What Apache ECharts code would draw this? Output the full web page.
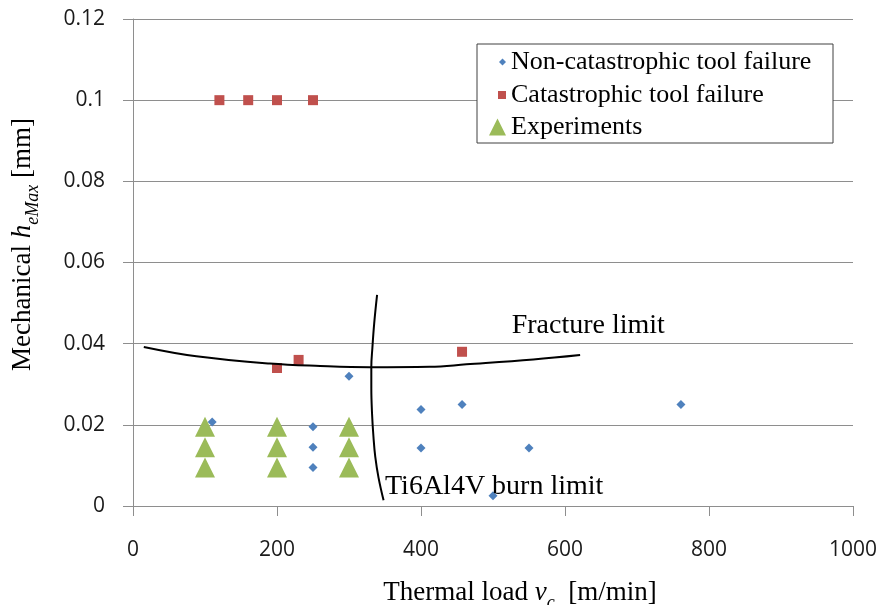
<!DOCTYPE html>
<html><head><meta charset="utf-8">
<script src="https://cdn.jsdelivr.net/npm/echarts@6/dist/echarts.min.js"></script>
<style>html,body{margin:0;padding:0;background:#fff}#c{width:887px;height:605px}</style>
</head><body><div id="c"></div>
<script>
// ---- data ----
const seriesNames = ['Non-catastrophic tool failure', 'Catastrophic tool failure', 'Experiments'];
const nonCatastrophic = [[110,0.0207],[250,0.0195],[250,0.0145],[250,0.0095],[300,0.032],[400,0.0238],[400,0.0143],[457,0.025],[500,0.0025],[550,0.0143],[761,0.025]];
const catastrophic = [[120,0.1],[160,0.1],[200,0.1],[250,0.1],[200,0.034],[230,0.036],[457,0.038]];
const experiments = [[100,0.0195],[100,0.0145],[100,0.0095],[200,0.0195],[200,0.0145],[200,0.0095],[300,0.0195],[300,0.0145],[300,0.0095]];
const fractureLimit = [[15,0.0392],[88,0.0369],[190,0.0351],[260,0.0345],[329,0.0342],[412,0.0343],[463,0.0349],[556,0.0361],[621,0.0372]];
const burnLimit = [[339,0.052],[335,0.045],[332.5,0.039],[331,0.0343],[331,0.029],[332,0.0228],[334,0.017],[336.5,0.0121],[341,0.007],[348,0.0014]];
const annotations = [[526,0.0444,'Fracture limit'],[350,0.0047,'Ti6Al4V burn limit']];
const xAxisRange = [0, 1000, 200];
const yAxisRange = [0, 0.12, 0.02];
const xTitle = '{n|Thermal load }{i|v}{s|c}{n|  [m/min]}';
const yTitle = '{n|Mechanical }{i|h}{s|eMax}{n| [mm]}';

// ---- styles ----
const serif = '"Liberation Serif", "Times New Roman", serif';
const sans = '"Open Sans", sans-serif';
const gray = '#8e8e8e';
const colors = ['#4F81BD', '#C0504D', '#9BBB59'];
const richTitle = {
  n: {fontFamily: serif, fontSize: 27, color: '#000', lineHeight: 32, verticalAlign: 'top'},
  i: {fontFamily: serif, fontSize: 27, fontStyle: 'italic', color: '#000', lineHeight: 32, verticalAlign: 'top'},
  s: {fontFamily: serif, fontSize: 18, fontStyle: 'italic', color: '#000', lineHeight: 18, verticalAlign: 'top', padding: [15, 0, 0, 0]}
};

function legendFor(i, left, top, iconW, iconH, icon) {
  return {
    data: [{name: seriesNames[i], icon: icon, itemStyle: {color: colors[i], opacity: 1}}],
    left: left, top: top, padding: 0, itemWidth: iconW, itemHeight: iconH,
    selectedMode: false,
    textStyle: {fontFamily: serif, fontSize: 26, color: '#000'},
    z: 5
  };
}

const chart = echarts.init(document.getElementById('c'), null, {renderer: 'canvas'});
chart.setOption({
  animation: false,
  backgroundColor: '#fff',
  grid: {left: 133, right: 34, top: 19, bottom: 99, containLabel: false, outerBoundsMode: 'none'},
  graphic: [{
    type: 'rect', z: 4,
    shape: {x: 477, y: 44, width: 356, height: 99},
    style: {fill: '#fff', stroke: '#404040', lineWidth: 1}
  }],
  legend: [
    legendFor(0, 499, 49, 7, 7, 'diamond'),
    legendFor(1, 498, 82, 8, 8, 'rect'),
    legendFor(2, 489, 114, 17, 17, 'triangle')
  ],
  xAxis: {
    type: 'value', min: xAxisRange[0], max: xAxisRange[1], interval: xAxisRange[2],
    axisLine: {show: true, lineStyle: {color: gray, width: 1}},
    axisTick: {show: true, inside: false, length: 10, lineStyle: {color: gray}},
    splitLine: {show: false},
    axisLabel: {fontFamily: sans, fontSize: 21, color: '#1a1a1a', margin: 34, formatter: v => String(v)},
    name: xTitle, nameLocation: 'middle', nameGap: 73,
    nameTextStyle: {rich: richTitle, padding: [0, 0, 0, 54]}
  },
  yAxis: {
    type: 'value', min: yAxisRange[0], max: yAxisRange[1], interval: yAxisRange[2],
    axisLine: {show: true, lineStyle: {color: gray, width: 1}},
    axisTick: {show: true, inside: false, length: 10, lineStyle: {color: gray}},
    splitLine: {show: true, lineStyle: {color: gray, width: 1}},
    axisLabel: {fontFamily: sans, fontSize: 21, color: '#1a1a1a', margin: 28},
    name: yTitle, nameLocation: 'middle', nameGap: 92,
    nameTextStyle: {rich: richTitle, padding: [0, 0, 0, 36]}
  },
  series: [
    {name: seriesNames[0], type: 'scatter', data: nonCatastrophic, symbol: 'diamond', symbolSize: 9,
     itemStyle: {color: colors[0], opacity: 1}, z: 3},
    {name: seriesNames[1], type: 'scatter', data: catastrophic, symbol: 'rect', symbolSize: 10,
     itemStyle: {color: colors[1], opacity: 1}, z: 3},
    {name: seriesNames[2], type: 'scatter', data: experiments, symbol: 'triangle', symbolSize: [20, 20],
     itemStyle: {color: colors[2], opacity: 1}, z: 3},
    {name: 'fracture', type: 'line', data: fractureLimit, smooth: 0.4, symbol: 'none',
     lineStyle: {color: '#000', width: 2}, z: 4, silent: true},
    {name: 'burn', type: 'line', data: burnLimit, smooth: 0.4, symbol: 'none',
     lineStyle: {color: '#000', width: 2}, z: 4, silent: true},
    {name: 'labels', type: 'scatter', data: annotations, symbolSize: 0, silent: true, z: 5,
     itemStyle: {opacity: 1},
     label: {show: true, position: 'right', distance: 0, formatter: p => p.data[2],
             fontFamily: serif, fontSize: 28, color: '#000', opacity: 1}}
  ]
});
</script></body></html>
